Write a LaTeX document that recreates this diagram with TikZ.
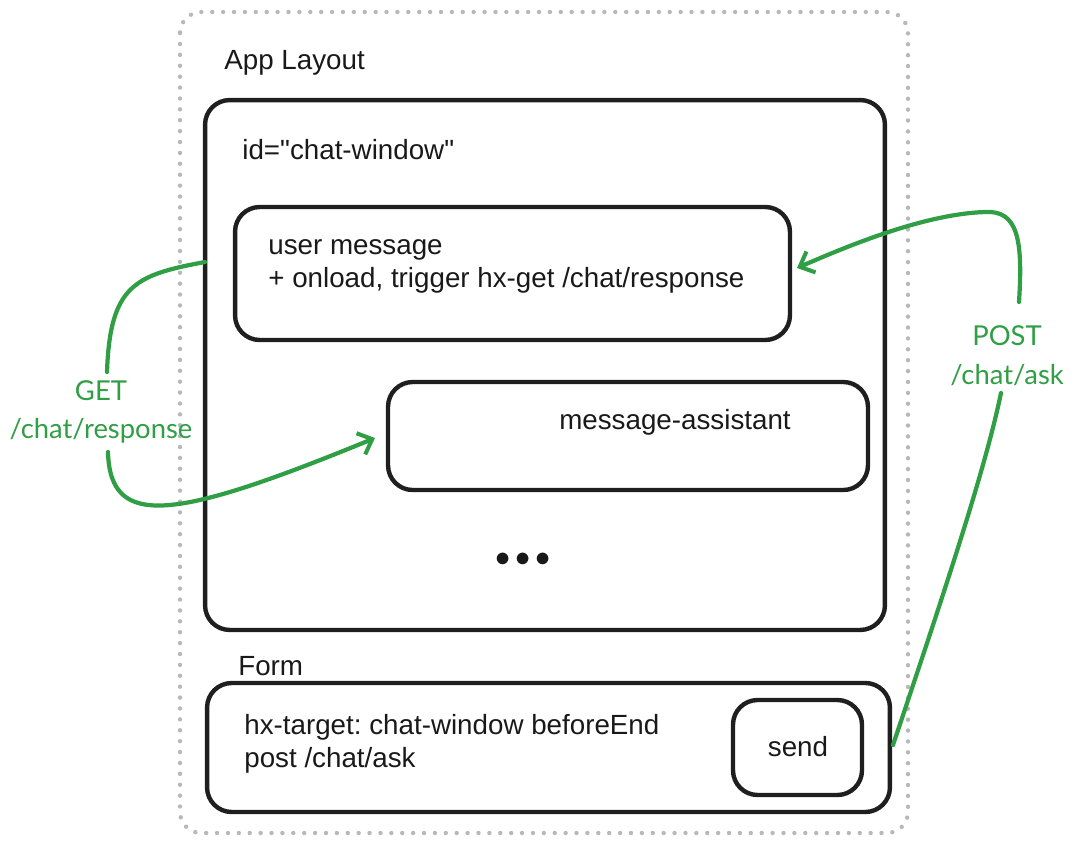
\documentclass[tikz,border=0pt]{standalone}
\usepackage{fontspec}
\setmainfont{Liberation Sans}[Ligatures=TeXOff]
\newfontfamily\greenfont{Lato}
\usetikzlibrary{arrows.meta, positioning}
\frenchspacing

\definecolor{flowgreen}{HTML}{2F9E44}
\definecolor{dotgray}{HTML}{B8B8B8}

\tikzset{
  box/.style={draw=black!88, line width=2.5pt, rounded corners=14pt, inner sep=0pt},
  txt/.style={font=\fontsize{15.8}{18.7}\selectfont, text=black!90, align=left, inner sep=0pt},
  flow/.style={draw=flowgreen, line width=2.4pt, line cap=round},
  flowtxt/.style={font=\greenfont\fontsize{15.6}{22}\selectfont, text=flowgreen, align=center, inner sep=1pt},
  barb/.style={-{Straight Barb[length=7pt, width=13pt, line width=2.3pt]}}
}

\begin{document}
\begin{tikzpicture}[x=0.02cm, y=-0.02cm]
        \useasboundingbox (0,0) rectangle (1073,843);

        % outer layout
        \draw[dotgray, line width=2.5pt, dash pattern=on 0pt off 6.2pt, line cap=round, rounded corners=12pt] (180,12) rectangle (908,833);
        \node[txt, anchor=west] (applbl) at (224,63) {App Layout};

        % chat window
        \node[box, minimum width=13.6cm, minimum height=10.6cm] (chat) at (545,365) {};
        \node[txt, anchor=west] (chatlbl) at (242,150) {id="chat-window"};
        \node[box, minimum width=11.1cm, minimum height=2.66cm] (usermsg) at (512.5,273.5) {};
        \node[txt, anchor=west] (usertxt) at (268,266) {user message\\+ onload, trigger hx-get /chat/response};
        \node[box, minimum width=9.6cm, minimum height=2.16cm] (assist) at (628,436) {};
        \node[txt, anchor=base] (assisttxt) at (675,429) {message-assistant};
        \node[txt, font=\fontsize{18}{18}\selectfont] (dots) at (523,560) {${\bullet}\,{\bullet}\,{\bullet}$};

        % form
        \node[txt, anchor=west] (formlbl) at (238,666) {Form};
        \node[box, minimum width=13.66cm, minimum height=2.58cm] (form) at (548.5,747.5) {};
        \node[txt, anchor=west] (formtxt) at (244,744) {hx-target: chat-window beforeEnd\\post /chat/ask};
        \node[box, minimum width=2.58cm, minimum height=1.9cm] (send) at (797.5,747.5) {};
        \node[txt] (sendtxt) at (798,747) {send};

        % GET /chat/response
        \coordinate (getstart) at (205,262);
        \coordinate (getend) at (375,438);
        \node[flowtxt] (getlbl) at (101,412) {GET\\/chat/response};
        \draw[flow] (getstart) .. controls (135,275) and (110,285) .. (107,372);
        \draw[flow, barb] (108,452) .. controls (110,530) and (175,520) .. (getend);

        % POST /chat/ask
        \coordinate (poststart) at (893,745);
        \coordinate (postend) at (797,268);
        \node[flowtxt] (postlbl) at (1007,356) {POST\\/chat/ask};
        \draw[flow] (poststart) .. controls (945,590) and (985,470) .. (1001,393);
        \draw[flow, barb] (1019,302) .. controls (1023,240) and (1018,210) .. (985,212) .. controls (925,214) and (850,245) .. (postend);
\end{tikzpicture}
\end{document}
